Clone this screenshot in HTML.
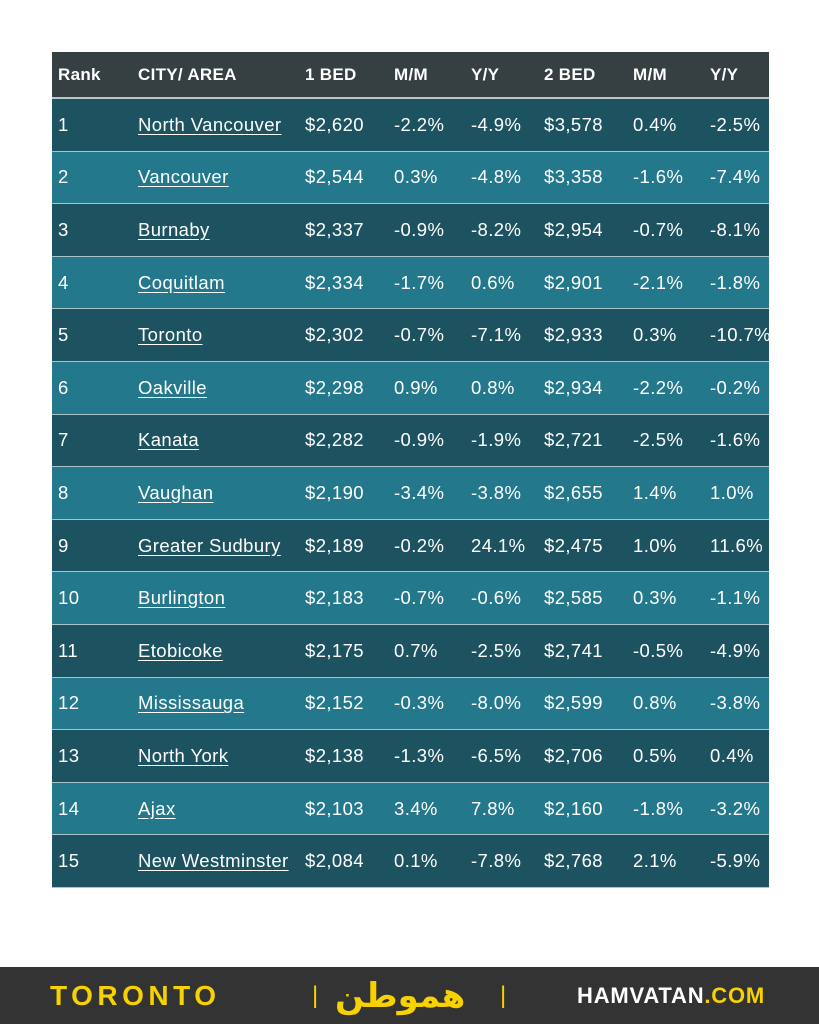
<!DOCTYPE html>
<html><head><meta charset="utf-8"><style>
body{margin:0;width:819px;height:1024px;background:#fff;position:relative;overflow:hidden;font-family:"Liberation Sans",sans-serif;}
.t{position:absolute;left:52px;top:52px;width:717px;}
.r{position:relative;height:52.6px;border-bottom:1px solid #a9c4c9;box-sizing:border-box;color:#fff;font-size:18.5px;letter-spacing:0.4px;}
.h{height:47px;background:#363f41;font-weight:bold;font-size:17px;letter-spacing:0.3px;border-bottom:2px solid #b8c8cc;}
.d{background:#1d5360}.l{background:#24788b}
.r span{position:absolute;top:50%;transform:translateY(-50%);white-space:nowrap;}
.r span.c{text-decoration:underline;text-underline-offset:3px}
.f{position:absolute;left:0;top:967px;width:819px;height:57px;background:#333;}
.f span{position:absolute;top:50%;transform:translateY(-50%);font-weight:bold;}
</style></head><body>
<div class="t" id="t"></div>
<div class="f">
<span style="left:50px;color:#f7d100;font-size:28px;letter-spacing:4.5px">TORONTO</span>
<span style="left:312px;color:#f7d100;font-size:24px;font-weight:normal">|</span>
<span style="left:335px;color:#f7d100;font-size:34px;font-family:'DejaVu Sans',sans-serif">همو‌طن</span>
<span style="left:500px;color:#f7d100;font-size:24px;font-weight:normal">|</span>
<span style="left:577px;color:#fff;font-size:22px;letter-spacing:0.8px">HAMVATAN<span style="position:static;transform:none;color:#f7d100">.COM</span></span>
</div>
<script>
var x=[6,86,253,342,419,492,581,658];
var rows=[["Rank","CITY/ AREA","1 BED","M/M","Y/Y","2 BED","M/M","Y/Y"],
["1","North Vancouver","$2,620","-2.2%","-4.9%","$3,578","0.4%","-2.5%"],
["2","Vancouver","$2,544","0.3%","-4.8%","$3,358","-1.6%","-7.4%"],
["3","Burnaby","$2,337","-0.9%","-8.2%","$2,954","-0.7%","-8.1%"],
["4","Coquitlam","$2,334","-1.7%","0.6%","$2,901","-2.1%","-1.8%"],
["5","Toronto","$2,302","-0.7%","-7.1%","$2,933","0.3%","-10.7%"],
["6","Oakville","$2,298","0.9%","0.8%","$2,934","-2.2%","-0.2%"],
["7","Kanata","$2,282","-0.9%","-1.9%","$2,721","-2.5%","-1.6%"],
["8","Vaughan","$2,190","-3.4%","-3.8%","$2,655","1.4%","1.0%"],
["9","Greater Sudbury","$2,189","-0.2%","24.1%","$2,475","1.0%","11.6%"],
["10","Burlington","$2,183","-0.7%","-0.6%","$2,585","0.3%","-1.1%"],
["11","Etobicoke","$2,175","0.7%","-2.5%","$2,741","-0.5%","-4.9%"],
["12","Mississauga","$2,152","-0.3%","-8.0%","$2,599","0.8%","-3.8%"],
["13","North York","$2,138","-1.3%","-6.5%","$2,706","0.5%","0.4%"],
["14","Ajax","$2,103","3.4%","7.8%","$2,160","-1.8%","-3.2%"],
["15","New Westminster","$2,084","0.1%","-7.8%","$2,768","2.1%","-5.9%"]];
var h="";
rows.forEach(function(r,i){
 var cls=i==0?"h":(i%2?"d":"l");
 h+='<div class="r '+cls+'">';
 r.forEach(function(c,j){h+='<span class="'+(i>0&&j==1?'c':'')+'" style="left:'+x[j]+'px">'+c+'</span>';});
 h+='</div>';
});
document.getElementById('t').innerHTML=h;
</script>
</body></html>
